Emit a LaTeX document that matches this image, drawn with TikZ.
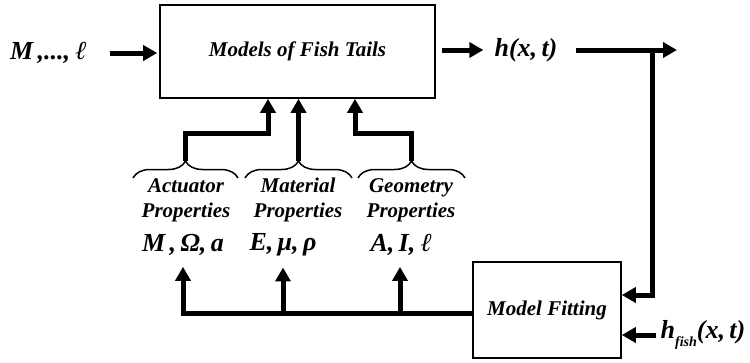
\documentclass[tikz,border=0pt]{standalone}
\usepackage{fontspec}
\setmainfont{Liberation Serif}
\newfontfamily\ellfont{Liberation Serif}[FakeSlant=0.22]
\newcommand{\scriptell}{{\ellfont\bfseries\upshape ℓ}}
\usetikzlibrary{arrows.meta,decorations.pathreplacing}

\tikzset{
  blockbox/.style={draw, line width=1.6pt, inner sep=0pt,
    font=\fontsize{21}{24}\selectfont\bfseries\itshape},
  biglbl/.style={inner sep=2pt, font=\fontsize{26}{28}\selectfont\bfseries\itshape},
  proplbl/.style={inner sep=0pt, align=center,
    font=\fontsize{21}{25}\selectfont\bfseries\itshape},
  arr/.style={line width=5pt, line join=miter,
    -{Triangle[length=14pt,width=15pt]}},
  grp/.style={line width=1.5pt, decorate,
    decoration={brace, amplitude=17pt}},
}

\begin{document}
\begin{tikzpicture}[x=1pt,y=-1pt]
\useasboundingbox (0,0) rectangle (750,362);

% blocks
\node[blockbox, minimum width=275pt, minimum height=93pt] (models) at (297.5,51.5) {Models of Fish Tails};
\node[blockbox, minimum width=148pt, minimum height=96pt] (fit) at (547,310) {Model Fitting};

% inputs and outputs of the model block
\node[biglbl, anchor=west] (inp) at (8,53) {M\,,...,\,\scriptell};
\coordinate (instart) at (110,53);
\node[biglbl] (hout) at (526,50) {h(x,\,t)};
\coordinate (outend) at (677,50);
\coordinate (tap) at (652,50);
\node[biglbl] (hfish) at (703,335) {h\raisebox{-0.3em}{\fontsize{14}{14}\selectfont fish}(x,\,t)};

% parameter groups
\node[proplbl] (actlbl) at (186,200) {Actuator\\Properties};
\node[proplbl] (matlbl) at (298,200) {Material\\Properties};
\node[proplbl] (geolbl) at (411,200) {Geometry\\Properties};

\node[biglbl] (act) at (183,245) {M\,,\,Ω,\,a};
\node[biglbl] (mat) at (283,245) {E,\,μ,\,ρ};
\node[biglbl] (geo) at (400,245) {A,\,I,\,\scriptell};

% braces over each group
\draw[grp] (133,178) -- (238,178);
\draw[grp] (245,178) -- (352,178);
\draw[grp] (358,178) -- (465,178);
\coordinate (actbr) at (185.5,161);
\coordinate (matbr) at (298.5,161);
\coordinate (geobr) at (411.5,161);

% parameters into the model block
\draw[arr] (actbr) -- ++(0,-28) -| ([xshift=-29.5pt]models.south);
\draw[arr] (matbr) -- (matbr |- models.south);
\draw[arr] (geobr) -- ++(0,-28) -| ([xshift=57.5pt]models.south);

% main signal path
\draw[arr, shorten >=2pt] (instart) -- (instart -| models.west);
\draw[arr, shorten <=6pt, shorten >=9pt] (models.east |- hout) -- (hout);
\draw[arr, shorten <=16pt] (hout) -- (outend);
\draw[arr] (tap) |- ([yshift=15pt]fit.east);
\draw[arr, shorten <=2pt] (hfish) -- ([yshift=-25pt]fit.east);

% feedback from model fitting to the parameters
\coordinate (busy) at (0,313);
\draw[arr, shorten >=9pt] ([yshift=-3pt]fit.west) -| (act.south);
\draw[arr, shorten >=9pt] (mat.south |- busy) -- (mat.south);
\draw[arr, shorten >=9pt] (geo.south |- busy) -- (geo.south);
\end{tikzpicture}
\end{document}
